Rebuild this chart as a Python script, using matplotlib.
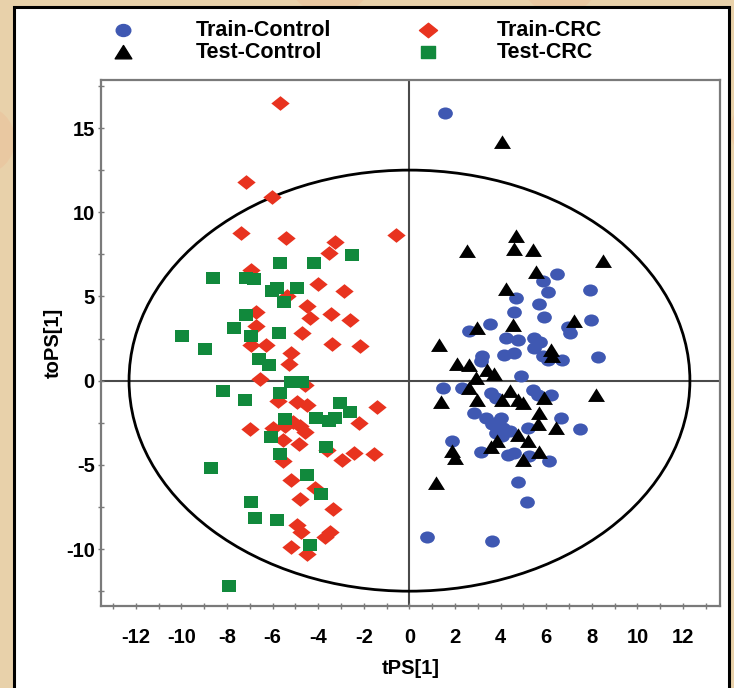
import numpy as np
import matplotlib
matplotlib.use("Agg")
import matplotlib.pyplot as plt
from matplotlib.path import Path
from matplotlib.patches import Ellipse, Rectangle

plt.rcParams['font.family'] = ['Liberation Sans', 'DejaVu Sans']
plt.rcParams['axes.unicode_minus'] = False

# ---------------- data ----------------
series_labels = ["Train-Control", "Train-CRC", "Test-Control", "Test-CRC"]

train_control_x = [1.56, 6.46, 5.85, 6.07, 7.90, 4.67, 5.70, 4.60, 5.92, 3.54, 7.94, 2.61,
                   6.95, 7.06, 4.23, 4.77, 5.48, 5.74, 5.45, 3.20, 3.13, 4.15, 4.60, 5.85,
                   6.07, 6.68, 8.27, 4.89, 1.47, 2.32, 3.57, 3.79, 5.41, 5.63, 6.21, 2.85,
                   3.35, 3.60, 3.90, 4.10, 4.40, 3.80, 4.05, 4.00, 6.65, 5.18, 7.50, 1.88,
                   3.13, 4.30, 4.60, 5.26, 6.14, 4.77, 5.15, 0.75, 3.60]
train_control_y = [15.89, 6.31, 5.91, 5.28, 5.38, 4.92, 4.58, 4.07, 3.79, 3.39, 3.63, 2.93,
                   3.20, 2.80, 2.54, 2.44, 2.54, 2.30, 1.95, 1.45, 1.15, 1.55, 1.65, 1.45,
                   1.25, 1.25, 1.40, 0.26, -0.44, -0.44, -0.73, -1.03, -0.54, -0.83, -0.83, -1.95,
                   -2.20, -2.55, -2.45, -2.80, -3.00, -3.10, -3.30, -2.22, -2.20, -2.82, -2.86, -3.61,
                   -4.21, -4.40, -4.30, -4.50, -4.80, -5.99, -7.18, -9.30, -9.50]

train_crc_x = [-5.68, -7.19, -6.02, -7.37, -5.42, -0.57, -3.26, -3.55, -6.97, -4.00, -2.89,
               -5.39, -4.50, -3.44, -4.36, -6.71, -2.63, -6.71, -4.73, -3.38, -2.19, -6.93,
               -6.31, -5.21, -5.27, -6.56, -4.60, -5.76, -4.95, -4.50, -1.42, -2.23, -7.00,
               -6.00, -5.46, -4.80, -4.58, -5.54, -4.83, -3.63, -2.45, -1.57, -2.96, -5.54,
               -5.21, -4.14, -4.80, -3.36, -4.95, -4.77, -3.48, -3.70, -5.21, -4.50, -5.10]
train_crc_y = [16.47, 11.80, 10.93, 8.75, 8.49, 8.65, 8.23, 7.60, 6.57, 5.75, 5.30,
               5.05, 4.42, 3.97, 3.73, 4.05, 3.59, 3.27, 2.80, 2.20, 2.04, 2.10,
               2.14, 1.62, 1.01, 0.12, -0.24, -1.23, -1.29, -1.43, -1.59, -2.52, -2.88,
               -2.82, -2.72, -2.72, -3.02, -3.51, -3.75, -4.11, -4.30, -4.35, -4.74, -4.80,
               -5.89, -6.39, -7.02, -7.60, -8.57, -8.97, -8.97, -9.30, -9.90, -10.30, -2.45]

test_control_x = [4.05, 4.67, 4.60, 2.51, 5.41, 8.49, 5.55, 4.23, 7.21, 2.95, 4.55, 1.29,
                  6.21, 6.25, 2.10, 2.61, 3.42, 3.71, 2.91, 2.61, 1.37, 2.98, 4.42, 4.74,
                  4.96, 4.08, 5.92, 8.19, 5.70, 5.63, 6.43, 4.74, 5.21, 3.83, 3.57, 5.67,
                  1.88, 2.00, 4.96, 1.15]
test_control_y = [14.18, 8.59, 7.84, 7.70, 7.76, 7.10, 6.45, 5.46, 3.53, 3.14, 3.33, 2.14,
                  1.80, 1.45, 1.01, 0.95, 0.65, 0.42, 0.16, -0.44, -1.29, -1.13, -0.64, -1.13,
                  -1.33, -1.13, -1.03, -0.83, -1.93, -2.56, -2.82, -3.21, -3.61, -3.61, -3.95, -4.21,
                  -4.20, -4.60, -4.74, -6.09]

test_crc_x = [-2.50, -5.68, -4.19, -8.62, -7.19, -6.83, -5.83, -6.05, -4.95, -5.49, -7.15,
              -7.70, -6.93, -5.73, -9.97, -8.96, -6.60, -6.15, -5.20, -4.73, -5.68, -8.18,
              -7.22, -3.04, -2.63, -5.46, -4.10, -3.55, -3.26, -6.08, -3.66, -5.68, -8.72,
              -4.50, -3.88, -6.96, -6.78, -5.83, -4.36, -7.92]
test_crc_y = [7.44, 6.96, 6.96, 6.11, 6.11, 6.01, 5.52, 5.32, 5.52, 4.66, 3.91,
              3.14, 2.68, 2.80, 2.68, 1.85, 1.30, 0.91, -0.08, -0.08, -0.73, -0.64,
              -1.17, -1.33, -1.89, -2.29, -2.22, -2.42, -2.22, -3.37, -3.95, -4.35, -5.20,
              -5.60, -6.73, -7.18, -8.17, -8.27, -9.76, -12.18]

x_ticks = [-12, -10, -8, -6, -4, -2, 0, 2, 4, 6, 8, 10, 12]
y_ticks = [-10, -5, 0, 5, 10, 15]
x_label = "tPS[1]"
y_label = "toPS[1]"

# ---------------- marker shapes ----------------
def closed(pts):
    pts = list(pts) + [pts[0]]
    codes = [Path.MOVETO] + [Path.LINETO] * (len(pts) - 2) + [Path.CLOSEPOLY]
    return Path(pts, codes)

uc = Path.unit_circle()
m_circle = Path(uc.vertices * np.array([1.0, 0.82]), uc.codes)
m_diamond = closed([(0, 0.4), (0.5, 0), (0, -0.4), (-0.5, 0)])
m_square = closed([(-0.5, -0.44), (0.5, -0.44), (0.5, 0.44), (-0.5, 0.44)])
m_tri = closed([(-0.5, -0.38), (0.5, -0.38), (0, 0.42)])

c_blue = '#3f58b2'
c_red = '#e8331f'
c_black = '#000000'
c_green = '#11893c'

W, H = 734, 688
fig = plt.figure(figsize=(W / 100, H / 100), dpi=100)
fig.patch.set_facecolor('#e8d1aa')

# background panel
bg = fig.add_axes([0, 0, 1, 1])
bg.set_xlim(0, W)
bg.set_ylim(H, 0)
bg.axis('off')
for cx, cy, r in [(330, -30, 45), (560, -25, 40), (-20, 140, 35), (760, 130, 30)]:
    bg.add_patch(plt.Circle((cx, cy), r, color='#ebc29c', alpha=0.6, lw=0))
bg.add_patch(Rectangle((14, 7), 715, 700, facecolor='white', edgecolor='black', lw=2.2))

# legend (manual)
leg_items = [
    (series_labels[0], m_circle, c_blue, 10.5, 123, 196, 30),
    (series_labels[1], m_diamond, c_red, 13, 428, 497, 30),
    (series_labels[2], m_tri, c_black, 12, 123, 196, 52),
    (series_labels[3], m_square, c_green, 9.5, 428, 497, 52),
]
for lab, mk, col, ms, mx, tx, ty in leg_items:
    bg.plot([mx], [ty], marker=mk, color=col, markersize=ms, linestyle='none')
    bg.text(tx, ty, lab, fontsize=15.5, fontweight='bold', va='center', ha='left')

# main axes
L, R, T, B = 101, 720, 80, 606
ax = fig.add_axes([L / W, 1 - B / H, (R - L) / W, (B - T) / H])
ax.set_facecolor('none')
ax.set_xlim(-13.53, 13.62)
ax.set_ylim(-13.38, 17.85)

ax.axhline(0, color='#4a4a4a', lw=1.5, zorder=1)
ax.axvline(0, color='#4a4a4a', lw=1.5, zorder=1)
ax.add_patch(Ellipse((0, 0), 2 * 12.3, 2 * 12.5, fill=False, ec='black', lw=2.0, zorder=2))

ax.scatter(train_control_x, train_control_y, marker=m_circle, s=10.6 ** 2, color=c_blue,
           linewidths=0, zorder=3)
ax.scatter(train_crc_x, train_crc_y, marker=m_diamond, s=13.2 ** 2, color=c_red,
           linewidths=0, zorder=3)
ax.scatter(test_control_x, test_control_y, marker=m_tri, s=12.2 ** 2, color=c_black,
           linewidths=0, zorder=4)
ax.scatter(test_crc_x, test_crc_y, marker=m_square, s=10.3 ** 2, color=c_green,
           linewidths=0, zorder=4)

for sp in ax.spines.values():
    sp.set_color('#7a7a7a')
    sp.set_linewidth(1.6)

ax.set_xticks(x_ticks)
ax.set_xticks(np.arange(-13, 14, 1), minor=True)
ax.set_yticks(y_ticks)
ax.set_yticks(np.arange(-12.5, 17.6, 2.5), minor=True)
ax.tick_params(which='both', direction='inout', color='#7a7a7a', width=1.0)
ax.tick_params(which='major', length=5)
ax.tick_params(which='minor', length=4)
ax.tick_params(axis='x', pad=13)
ax.tick_params(axis='y', pad=2)
for lbl in ax.get_xticklabels() + ax.get_yticklabels():
    lbl.set_fontsize(14.5)
    lbl.set_fontweight('bold')

ax.set_xlabel(x_label, fontsize=14.5, fontweight='bold', labelpad=9)
ax.set_ylabel(y_label, fontsize=14.5, fontweight='bold', labelpad=2)

fig.savefig('out.png', dpi=100, facecolor=fig.get_facecolor())
